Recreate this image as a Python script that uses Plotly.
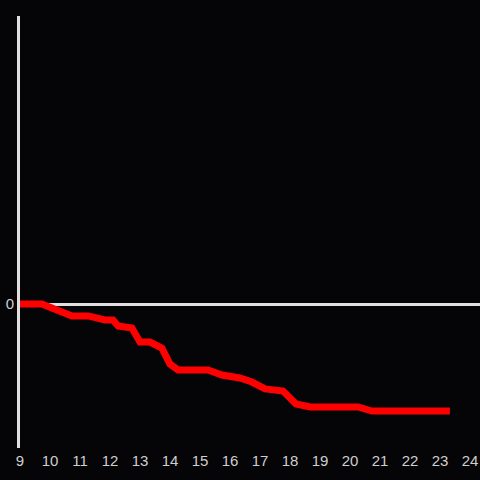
import plotly.graph_objects as go

hours = [9.0, 9.73, 10.73, 11.27, 11.83, 12.1, 12.27, 12.73, 13.0, 13.33, 13.73, 14.0, 14.27,
         15.27, 15.73, 16.33, 16.73, 17.17, 17.77, 18.2, 18.67, 20.27, 20.73, 23.33]
values = [0.0, 0.0, -0.083, -0.083, -0.111, -0.111, -0.153, -0.167, -0.264, -0.264, -0.306,
          -0.417, -0.458, -0.458, -0.493, -0.514, -0.542, -0.59, -0.604, -0.694, -0.715,
          -0.715, -0.743, -0.743]
x_ticks = list(range(9, 25))
y_ticks = [0]

fig = go.Figure()
fig.add_trace(go.Scatter(x=hours, y=values, mode="lines",
                         line=dict(color="#ff0000", width=7), hoverinfo="skip"))

bg = "#050407"
fig.update_layout(
    width=480, height=480,
    margin=dict(l=20, r=0, t=16, b=32),
    paper_bgcolor=bg, plot_bgcolor=bg,
    showlegend=False,
    font=dict(family="Liberation Sans, Arial, sans-serif", size=15, color="#cfcfcf"),
    xaxis=dict(range=[9, 24 + 1/3], tickvals=x_ticks, ticktext=[str(t) for t in x_ticks],
               showgrid=False, zeroline=False, showline=False, ticks="",
               ticklabelstandoff=2,
               tickfont=dict(size=15, color="#cfcfcf"), fixedrange=True),
    yaxis=dict(range=[-1, 2], tickvals=y_ticks, ticktext=["0"],
               showgrid=False, zeroline=True, zerolinecolor="#e0e0e0", zerolinewidth=3,
               showline=True, linecolor="#e0e0e0", linewidth=3, ticks="",
               tickfont=dict(size=15, color="#cfcfcf"), fixedrange=True),
)
fig.write_html("out.html", config={"displayModeBar": False},
               post_script="document.body.style.margin='0';document.body.style.background='#050407';")
